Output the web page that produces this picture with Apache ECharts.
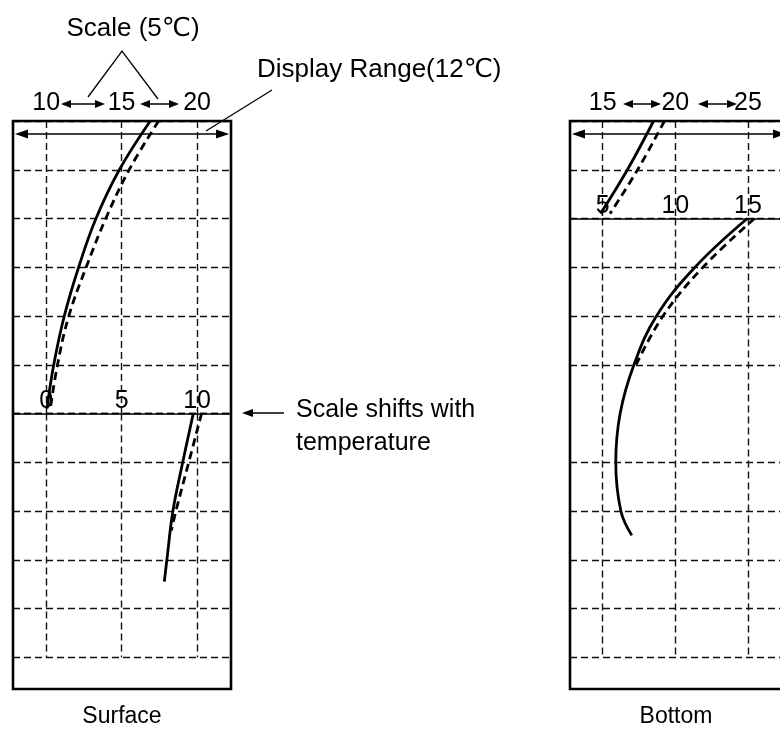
<!DOCTYPE html>
<html>
<head>
<meta charset="utf-8">
<script src="https://cdn.jsdelivr.net/npm/echarts@6/dist/echarts.min.js"></script>
<style>
  html, body { margin: 0; padding: 0; background: #fff; }
  #chart { width: 780px; height: 736px; }
</style>
</head>
<body>
<div id="chart"></div>
<script>
// depth is counted in grid rows from the top of the display (0 = top edge)
// temperatures are read on the scale that is active in that section
const surfTopScale = [10, 15, 20]
const surfLowScale = [0, 5, 10]
const botTopScale = [15, 20, 25]
const botLowScale = [5, 10, 15]

const surfUpRows = [0, 1, 2, 3, 4, 5, 5.9]
const surfUpTemp = [16.9, 14.85, 13.3, 12.15, 11.2, 10.5, 10.05]
const surfUpRowsDash = [0, 1, 2, 3, 4, 5, 5.95]
const surfUpTempDash = [17.45, 15.5, 13.95, 12.65, 11.5, 10.75, 10.25]
const surfLowRows = [6, 7, 8, 9, 9.45]
const surfLowTemp = [9.75, 9.05, 8.4, 8.0, 7.83]
const surfLowRowsDash = [6, 7, 8, 8.4]
const surfLowTempDash = [10.3, 9.45, 8.6, 8.3]

const botUpRows = [0, 1, 1.9]
const botUpTemp = [18.5, 16.7, 14.85]
const botUpRowsDash = [0, 1, 1.9]
const botUpTempDash = [19.25, 17.4, 15.5]
const botLowRows = [2, 3, 4, 5, 6, 7, 8, 8.5]
const botLowTemp = [14.95, 11.35, 8.7, 7.15, 6.2, 5.9, 6.25, 7.0]
const botLowRowsDash = [2, 3, 4, 5]
const botLowTempDash = [15.45, 11.9, 9.15, 7.3]

const surfRows = [0, 1, 2, 3, 4, 5, 6, 7, 8, 9, 10, 11]
const botRowsUp = [0, 1, 2]
const botRowsLow = [3, 4, 5, 7, 8, 9, 10, 11] // no line at row 6 on this panel

const FONT = '"Liberation Sans", Arial, Helvetica, "DejaVu Sans", sans-serif'
const dashGrid = { show: true, lineStyle: { color: '#111', width: 1.4, type: [7, 4] } }

function pairs(temps, rows) {
  return temps.map((t, i) => [t, rows[i]])
}

function xAx(grid, min, max, scale, margin, showLine) {
  return {
    type: 'value', gridIndex: grid, position: 'top', min: min, max: max,
    axisLine: { show: showLine, onZero: false, lineStyle: { color: '#000', width: 1.5 } },
    axisTick: { show: false, customValues: scale },
    axisLabel: { show: true, customValues: scale, margin: margin, color: '#000', fontSize: 25, fontFamily: FONT },
    splitLine: dashGrid
  }
}

function yAx(grid, min, max, rows) {
  return {
    type: 'value', gridIndex: grid, inverse: true, min: min, max: max,
    axisLine: { show: false },
    axisTick: { show: false, customValues: rows },
    axisLabel: { show: false, customValues: rows },
    splitLine: dashGrid
  }
}

function curve(idx, data, dashed) {
  return {
    type: 'line', xAxisIndex: idx, yAxisIndex: idx, data: data,
    smooth: 0.4, showSymbol: false, symbol: 'none', z: 5,
    lineStyle: { color: '#000', width: 2.8, type: dashed ? [8, 5] : 'solid' }
  }
}

// small arrow helpers for the annotations
function arrowHead(tipX, tipY, dir, len, half) {
  return {
    type: 'polygon', z: 100,
    shape: { points: [[tipX, tipY], [tipX - dir * len, tipY - half], [tipX - dir * len, tipY + half]] },
    style: { fill: '#000' }
  }
}
function seg(x1, y1, x2, y2, w) {
  return { type: 'line', z: 100, shape: { x1: x1, y1: y1, x2: x2, y2: y2 }, style: { stroke: '#000', lineWidth: w || 1.3 } }
}
function dblArrow(x1, x2, y, len, half) {
  return [seg(x1 + 2, y, x2 - 2, y, 1.3), arrowHead(x1, y, -1, len, half), arrowHead(x2, y, 1, len, half)]
}
function txt(x, y, text, size, align) {
  return {
    type: 'text', z: 100, x: x, y: y,
    style: { text: text, fill: '#000', fontSize: size, fontFamily: FONT, align: align || 'center', verticalAlign: 'middle' }
  }
}

const chart = echarts.init(document.getElementById('chart'))
chart.setOption({
  animation: false,
  backgroundColor: '#fff',
  grid: [
    { left: 13, top: 121, width: 218, height: 292.5 },
    { left: 13, top: 413.5, width: 218, height: 243.75 },
    { left: 570, top: 121, width: 218, height: 97.5 },
    { left: 570, top: 218.5, width: 218, height: 438.75 }
  ],
  xAxis: [
    xAx(0, 7.8, 22.25, surfTopScale, 5, false),
    xAx(1, -2.2, 12.25, surfLowScale, 0, true),
    xAx(2, 12.75, 27.2, botTopScale, 5, false),
    xAx(3, 2.75, 17.2, botLowScale, 0, true)
  ],
  yAxis: [
    yAx(0, 0, 6, surfRows.filter(r => r <= 6)),
    yAx(1, 6, 11, surfRows.filter(r => r >= 6)),
    yAx(2, 0, 2, botRowsUp),
    yAx(3, 2, 11, botRowsLow)
  ],
  series: [
    curve(0, pairs(surfUpTemp, surfUpRows), false),
    curve(0, pairs(surfUpTempDash, surfUpRowsDash), true),
    curve(1, pairs(surfLowTemp, surfLowRows), false),
    curve(1, pairs(surfLowTempDash, surfLowRowsDash), true),
    curve(2, pairs(botUpTemp, botUpRows), false),
    curve(2, pairs(botUpTempDash, botUpRowsDash), true),
    curve(3, pairs(botLowTemp, botLowRows), false),
    curve(3, pairs(botLowTempDash, botLowRowsDash), true)
  ],
  graphic: [
    // panel frames
    { type: 'rect', z: 100, shape: { x: 13, y: 121, width: 218, height: 568 }, style: { fill: 'none', stroke: '#000', lineWidth: 2.6 } },
    { type: 'rect', z: 100, shape: { x: 570, y: 121, width: 218, height: 568 }, style: { fill: 'none', stroke: '#000', lineWidth: 2.6 } },
    // display range arrows
    ...dblArrow(15, 229, 134, 13, 4.5),
    ...dblArrow(572, 786, 134, 13, 4.5),
    // scale step arrows between the top labels
    ...dblArrow(61, 105, 104, 10, 4),
    ...dblArrow(140, 179, 104, 10, 4),
    ...dblArrow(623, 661, 104, 10, 4),
    ...dblArrow(698, 737, 104, 10, 4),
    // leaders
    { type: 'polyline', z: 100, shape: { points: [[88, 97], [122, 51], [158, 99]] }, style: { stroke: '#000', lineWidth: 1.3, fill: 'none' } },
    seg(206, 131, 272, 90, 1.3),
    seg(250, 413, 284, 413, 1.3),
    arrowHead(242, 413, -1, 11, 4),
    // texts
    txt(133, 29, 'Scale (5℃)', 26),
    txt(257, 70, 'Display Range(12℃)', 26, 'left'),
    txt(296, 410, 'Scale shifts with', 25, 'left'),
    txt(296, 443, 'temperature', 25, 'left'),
    txt(122, 717, 'Surface', 23),
    txt(676, 717, 'Bottom', 23)
  ]
})
</script>
</body>
</html>
